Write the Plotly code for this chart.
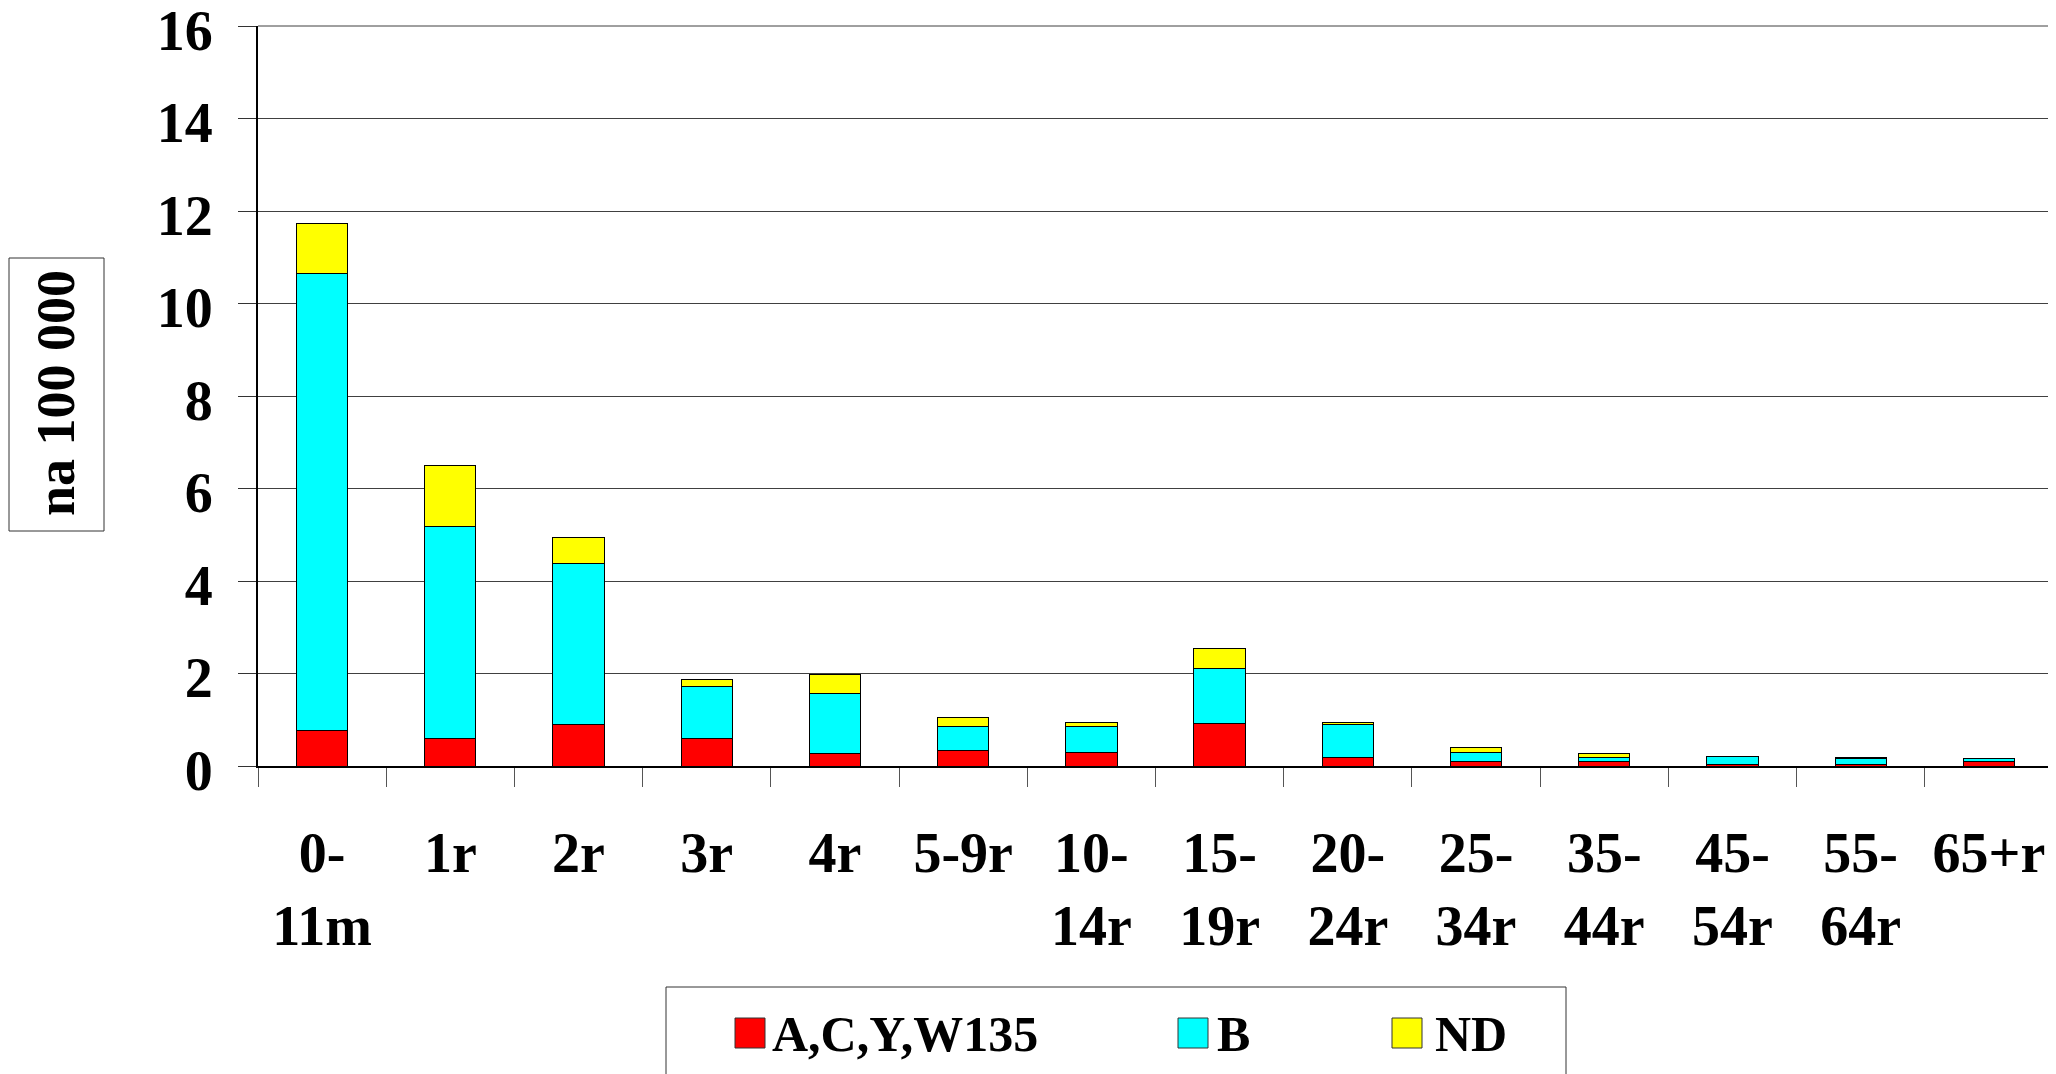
import plotly.graph_objects as go

# ---------------- data ----------------
categories = ["0-11m", "1r", "2r", "3r", "4r", "5-9r", "10-14r", "15-19r",
              "20-24r", "25-34r", "35-44r", "45-54r", "55-64r", "65+r"]
tick_labels = ["0-<br>11m", "1r", "2r", "3r", "4r", "5-9r", "10-<br>14r", "15-<br>19r",
               "20-<br>24r", "25-<br>34r", "35-<br>44r", "45-<br>54r", "55-<br>64r", "65+r"]
series_names = ["A,C,Y,W135", "B", "ND"]
acyw_values = [0.76, 0.60, 0.90, 0.60, 0.26, 0.34, 0.30, 0.91, 0.19, 0.09, 0.09, 0.04, 0.04, 0.09]
b_values = [9.88, 4.58, 3.47, 1.11, 1.31, 0.52, 0.56, 1.20, 0.71, 0.21, 0.10, 0.16, 0.13, 0.07]
nd_values = [1.10, 1.32, 0.58, 0.15, 0.40, 0.19, 0.09, 0.42, 0.05, 0.11, 0.08, 0.01, 0.01, 0.01]
y_tick_values = [0, 2, 4, 6, 8, 10, 12, 14, 16]
y_title = "na 100 000"

# ---------------- style ----------------
colors = ["#FF0000", "#00FFFF", "#FFFF00"]
FONT = "Liberation Serif, Times New Roman, serif"
OFF = 8  # page body margin offset
W, H = 2056 - OFF, 1074 - OFF
ML, MR, MT, MB = 258 - OFF, 3, 26 - OFF, 308
PW, PH = W - ML - MR, H - MT - MB


def px_x(x):
    """screen x pixel -> paper coordinate"""
    return (x - OFF - ML) / PW


def px_y(y):
    """screen y pixel -> paper coordinate"""
    return (H - MB - (y - OFF)) / PH


fig = go.Figure()
for name, vals, col in zip(series_names, [acyw_values, b_values, nd_values], colors):
    fig.add_trace(go.Bar(
        x=categories, y=vals, name=name,
        marker=dict(color=col, line=dict(color="#000000", width=1)),
        showlegend=False,
    ))

fig.update_layout(
    template="none",
    width=W, height=H,
    margin=dict(l=ML, r=MR, t=MT, b=MB, autoexpand=False),
    barmode="stack", bargap=0.6,
    plot_bgcolor="white", paper_bgcolor="white",
    font=dict(family=FONT, color="black"),
)
fig.update_xaxes(
    type="category", tickvals=categories, ticktext=tick_labels,
    tickson="boundaries", ticks="outside", ticklen=19, tickwidth=1, tickcolor="#555555",
    showline=True, linecolor="black", linewidth=2,
    showgrid=False, automargin=False,
    tickfont=dict(family=FONT, size=56, weight="bold", color="black"),
    ticklabelstandoff=37,
)
fig.update_yaxes(
    range=[0, 16], tickvals=y_tick_values,
    ticks="outside", ticklen=18, tickwidth=1, tickcolor="#333333",
    showline=True, linecolor="black", linewidth=2,
    showgrid=True, gridcolor="#404040", gridwidth=1,
    zeroline=False, automargin=False, ticklabeloverflow="allow",
    tickfont=dict(family=FONT, size=56, weight="bold", color="black"),
    ticklabelstandoff=14, ticklabelshift=4,
)

shapes = []
annotations = []
# top and right plot border
shapes.append(dict(type="line", xref="paper", yref="paper", x0=1, x1=1, y0=0, y1=1,
                   line=dict(color="#808080", width=1)))
shapes.append(dict(type="line", xref="paper", yref="paper", x0=0, x1=1, y0=1, y1=1,
                   line=dict(color="#404040", width=1)))

# y-axis title in a box
shapes.append(dict(type="rect", xref="paper", yref="paper",
                   x0=px_x(9), x1=px_x(104), y0=px_y(531), y1=px_y(258),
                   line=dict(color="#333333", width=1), fillcolor="white", layer="below"))
annotations.append(dict(
    text=y_title, textangle=-90, xref="paper", yref="paper",
    x=px_x(56), y=px_y(393), xanchor="center", yanchor="middle", showarrow=False,
    font=dict(family=FONT, size=54, weight="bold", color="black"),
))

# legend box
shapes.append(dict(type="rect", xref="paper", yref="paper",
                   x0=px_x(666), x1=px_x(1566), y0=px_y(1090), y1=px_y(987),
                   line=dict(color="#333333", width=1), fillcolor="white", layer="above"))
sq_left = [735, 1178, 1392]
txt_left = [770, 1215, 1433]
for name, col, sx, tx in zip(series_names, colors, sq_left, txt_left):
    shapes.append(dict(type="rect", xref="paper", yref="paper",
                       x0=px_x(sx), x1=px_x(sx + 30), y0=px_y(1048), y1=px_y(1018),
                       line=dict(color="#333333", width=1), fillcolor=col, layer="above"))
    annotations.append(dict(
        text=name, xref="paper", yref="paper", x=px_x(tx), y=px_y(1034),
        xanchor="left", yanchor="middle", showarrow=False,
        font=dict(family=FONT, size=50, weight="bold", color="black"),
    ))

fig.update_layout(shapes=shapes, annotations=annotations)
fig.write_html("out.html")
